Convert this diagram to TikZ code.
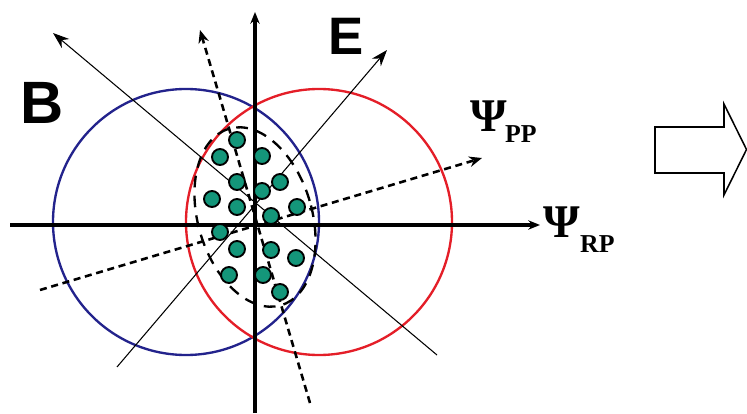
\documentclass[tikz,border=0pt]{standalone}
\usepackage{fontspec}
\usetikzlibrary{arrows.meta}
\newfontfamily\letterfont{Liberation Sans}
\newfontfamily\psifont{Liberation Serif}
\definecolor{circblue}{RGB}{35,35,140}
\definecolor{circred}{RGB}{228,30,40}
\definecolor{dotgreen}{RGB}{20,150,122}
\tikzset{
  axis/.style={line width=2.8pt, -{Stealth[length=10pt,width=8pt]}},
  thinaxis/.style={line width=0.9pt, -{Stealth[length=14pt,width=10pt]}},
  dashaxis/.style={line width=2.2pt, dash pattern=on 6pt off 4pt, -{Stealth[length=11pt,width=9pt]}},
  dot/.style={fill=dotgreen, draw=black, line width=1.6pt},
}
\begin{document}
\begin{tikzpicture}[x=0.03cm, y=0.03cm]
    \useasboundingbox (0,0) rectangle (747,413);

    \draw[circblue, line width=2pt] (186,191) circle (133);
    \draw[circred, line width=2pt] (319,191) circle (133);

    \draw[thinaxis] (437,58) -- (53,380);
    \draw[thinaxis] (117,46) -- (387,363);

    \draw[dashaxis] (310,10) -- (200,383);
    \draw[dashaxis] (40,123) -- (482,255);

    \draw[line width=2pt, dash pattern=on 10pt off 7pt, rotate around={16.4:(255,196)}]
        (255,196) ellipse (57 and 92);

    \draw[axis] (10,188) -- (540,188);
    \draw[axis] (255,0) -- (255,401);

    \foreach \x/\y in {237/273, 220/256, 262/257, 237/231, 280/231, 262/222,
                       212/214, 237/206, 297/206, 271/197, 220/181, 237/164,
                       271/163, 296/155, 229/138, 263/138, 280/121}
        \draw[dot] (\x,\y) circle (8);

    \node[inner sep=0] (lblB) at (42,310) {\letterfont\bfseries\fontsize{51}{51}\selectfont B};
    \node[inner sep=0] (lblE) at (346,377) {\letterfont\bfseries\fontsize{45}{45}\selectfont E};

    \node[inner sep=0, anchor=base west] (psipp) at (470,281) {\psifont\bfseries\fontsize{40}{40}\selectfont Ψ};
    \node[inner sep=0, anchor=base west] at (505,270) {\psifont\bfseries\fontsize{22}{22}\selectfont PP};
    \node[inner sep=0, anchor=base west] (psirp) at (543,175) {\psifont\bfseries\fontsize{40}{40}\selectfont Ψ};
    \node[inner sep=0, anchor=base west] at (580,160) {\psifont\bfseries\fontsize{22}{22}\selectfont RP};

    \draw[line width=1.3pt] (655,286) -- (724,286) -- (724,309) -- (746.5,263.5)
        -- (724,218) -- (724,240) -- (655,240) -- cycle;
\end{tikzpicture}
\end{document}
